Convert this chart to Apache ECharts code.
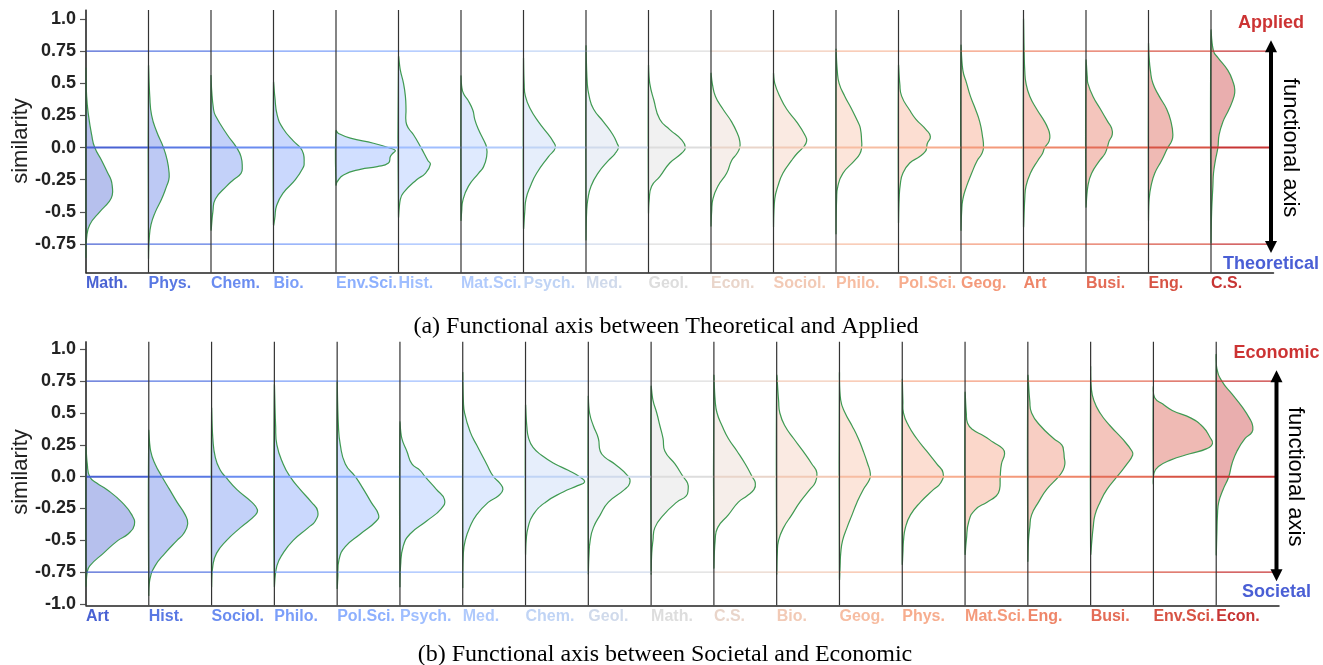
<!DOCTYPE html>
<html>
<head>
<meta charset="utf-8">
<script src="https://cdn.jsdelivr.net/npm/echarts@6.0.0/dist/echarts.min.js"></script>
<style>
html, body { margin: 0; padding: 0; background: #fff; }
#main { width: 1323px; height: 665px; }
</style>
</head>
<body>
<div id="main"></div>
<script>
// categories, left to right
const catsA = ['Math.', 'Phys.', 'Chem.', 'Bio.', 'Env.Sci.', 'Hist.', 'Mat.Sci.', 'Psych.', 'Med.', 'Geol.',
  'Econ.', 'Sociol.', 'Philo.', 'Pol.Sci.', 'Geog.', 'Art', 'Busi.', 'Eng.', 'C.S.']
const catsB = ['Art', 'Hist.', 'Sociol.', 'Philo.', 'Pol.Sci.', 'Psych.', 'Med.', 'Chem.', 'Geol.', 'Math.',
  'C.S.', 'Bio.', 'Geog.', 'Phys.', 'Mat.Sci.', 'Eng.', 'Busi.', 'Env.Sci.', 'Econ.']

// density outlines: [similarity, width], top to bottom
const densA = [
  [[0.6,0],[0.4,0.01],[0.25,0.04],[0.1,0.09],[0,0.14],[-0.1,0.25],[-0.2,0.35],[-0.25,0.4],[-0.3,0.42],[-0.37,0.42],[-0.42,0.37],[-0.5,0.22],[-0.6,0.06],[-0.7,0.01],[-0.84,0]],
  [[0.62,0],[0.4,0.02],[0.25,0.05],[0.125,0.13],[0,0.24],[-0.1,0.3],[-0.2,0.33],[-0.25,0.325],[-0.3,0.29],[-0.4,0.21],[-0.5,0.11],[-0.6,0.04],[-0.72,0.01],[-0.85,0]],
  [[0.55,0],[0.45,0.01],[0.3,0.04],[0.25,0.07],[0.1,0.26],[0,0.41],[-0.07,0.48],[-0.15,0.5],[-0.2,0.48],[-0.25,0.36],[-0.3,0.25],[-0.4,0.07],[-0.5,0.03],[-0.63,0]],
  [[0.5,0],[0.4,0.02],[0.25,0.06],[0.15,0.15],[0.05,0.32],[0,0.43],[-0.05,0.48],[-0.12,0.49],[-0.15,0.48],[-0.25,0.35],[-0.35,0.16],[-0.45,0.05],[-0.55,0.02],[-0.6,0]],
  [[0.13,0],[0.11,0.04],[0.073,0.23],[0.034,0.6],[-0.005,0.87],[-0.023,0.95],[-0.044,0.91],[-0.07,0.87],[-0.12,0.84],[-0.148,0.66],[-0.169,0.39],[-0.213,0.12],[-0.265,0.02],[-0.29,0]],
  [[0.7,0],[0.6,0.03],[0.5,0.08],[0.4,0.11],[0.3,0.12],[0.2,0.12],[0.15,0.16],[0.1,0.24],[0,0.36],[-0.1,0.47],[-0.13,0.51],[-0.2,0.43],[-0.25,0.29],[-0.35,0.08],[-0.4,0.03],[-0.53,0]],
  [[0.55,0],[0.48,0.01],[0.42,0.04],[0.37,0.11],[0.29,0.19],[0.22,0.22],[0.14,0.28],[0.06,0.36],[0,0.41],[-0.07,0.41],[-0.15,0.36],[-0.2,0.28],[-0.3,0.12],[-0.41,0.03],[-0.5,0.01],[-0.56,0]],
  [[0.68,0],[0.5,0.01],[0.4,0.03],[0.3,0.11],[0.2,0.24],[0.1,0.4],[0.05,0.47],[0,0.51],[-0.07,0.4],[-0.2,0.21],[-0.3,0.11],[-0.4,0.04],[-0.5,0.02],[-0.62,0]],
  [[0.77,0],[0.5,0.02],[0.4,0.05],[0.3,0.12],[0.2,0.28],[0.1,0.43],[0.03,0.5],[0,0.52],[-0.05,0.46],[-0.1,0.36],[-0.2,0.19],[-0.3,0.08],[-0.4,0.03],[-0.5,0.01],[-0.7,0]],
  [[0.63,0],[0.5,0.02],[0.37,0.085],[0.22,0.18],[0.14,0.34],[0.06,0.53],[0,0.59],[-0.044,0.53],[-0.12,0.34],[-0.226,0.18],[-0.3,0.05],[-0.41,0.01],[-0.5,0]],
  [[0.57,0],[0.5,0.02],[0.4,0.07],[0.3,0.19],[0.2,0.33],[0.1,0.43],[0.05,0.46],[0,0.46],[-0.05,0.41],[-0.1,0.33],[-0.2,0.25],[-0.3,0.11],[-0.4,0.03],[-0.5,0.01],[-0.6,0]],
  [[0.57,0],[0.5,0.02],[0.4,0.1],[0.3,0.21],[0.2,0.37],[0.1,0.5],[0.05,0.53],[0,0.47],[-0.05,0.37],[-0.1,0.29],[-0.2,0.15],[-0.3,0.07],[-0.4,0.02],[-0.6,0]],
  [[0.75,0],[0.6,0.02],[0.5,0.05],[0.4,0.14],[0.3,0.25],[0.2,0.35],[0.15,0.39],[0.05,0.41],[0,0.41],[-0.05,0.38],[-0.1,0.3],[-0.2,0.11],[-0.3,0.03],[-0.4,0.01],[-0.65,0]],
  [[0.63,0],[0.5,0.02],[0.4,0.05],[0.29,0.18],[0.22,0.28],[0.14,0.44],[0.086,0.51],[0.03,0.46],[0,0.45],[-0.03,0.43],[-0.07,0.34],[-0.12,0.18],[-0.2,0.07],[-0.28,0.03],[-0.4,0.01],[-0.57,0]],
  [[0.78,0],[0.6,0.03],[0.5,0.09],[0.4,0.15],[0.3,0.23],[0.2,0.3],[0.1,0.34],[0,0.36],[-0.05,0.33],[-0.1,0.26],[-0.2,0.17],[-0.3,0.09],[-0.4,0.03],[-0.5,0.01],[-0.63,0]],
  [[0.98,0],[0.75,0.01],[0.6,0.02],[0.5,0.04],[0.4,0.1],[0.3,0.21],[0.2,0.34],[0.15,0.39],[0.1,0.42],[0.05,0.41],[0,0.34],[-0.05,0.3],[-0.1,0.23],[-0.2,0.11],[-0.3,0.04],[-0.4,0.02],[-0.6,0]],
  [[0.67,0],[0.55,0.02],[0.5,0.03],[0.4,0.11],[0.3,0.23],[0.2,0.35],[0.15,0.41],[0.1,0.42],[0.05,0.37],[0,0.34],[-0.05,0.3],[-0.1,0.22],[-0.2,0.09],[-0.3,0.03],[-0.45,0]],
  [[0.8,0],[0.7,0.01],[0.6,0.03],[0.5,0.07],[0.4,0.17],[0.3,0.29],[0.2,0.36],[0.1,0.39],[0.05,0.37],[0,0.31],[-0.1,0.21],[-0.2,0.1],[-0.3,0.04],[-0.4,0.01],[-0.55,0]],
  [[0.9,0],[0.75,0.04],[0.7,0.11],[0.6,0.27],[0.5,0.36],[0.45,0.38],[0.4,0.37],[0.3,0.29],[0.2,0.19],[0.1,0.13],[0,0.11],[-0.1,0.07],[-0.2,0.04],[-0.3,0.03],[-0.5,0.01],[-0.72,0]]
]
const densB = [
  [[0.22,0],[0.1,0.02],[0,0.06],[-0.05,0.17],[-0.1,0.33],[-0.2,0.57],[-0.3,0.73],[-0.38,0.77],[-0.45,0.67],[-0.5,0.51],[-0.6,0.28],[-0.7,0.06],[-0.75,0.02],[-0.85,0]],
  [[0.35,0],[0.2,0.03],[0.1,0.1],[0,0.21],[-0.1,0.33],[-0.2,0.45],[-0.3,0.58],[-0.37,0.62],[-0.45,0.55],[-0.5,0.45],[-0.6,0.26],[-0.7,0.1],[-0.8,0.02],[-0.92,0]],
  [[0.52,0],[0.3,0.02],[0.15,0.06],[0.05,0.14],[0,0.22],[-0.1,0.4],[-0.2,0.64],[-0.26,0.73],[-0.3,0.7],[-0.4,0.46],[-0.5,0.24],[-0.6,0.08],[-0.7,0.02],[-0.85,0]],
  [[0.7,0],[0.4,0.02],[0.25,0.04],[0.1,0.14],[0,0.25],[-0.1,0.41],[-0.2,0.59],[-0.27,0.69],[-0.35,0.65],[-0.4,0.54],[-0.5,0.3],[-0.6,0.14],[-0.7,0.04],[-0.85,0]],
  [[0.72,0],[0.4,0.02],[0.25,0.05],[0.1,0.13],[0,0.29],[-0.1,0.42],[-0.2,0.54],[-0.3,0.66],[-0.35,0.62],[-0.45,0.37],[-0.55,0.13],[-0.65,0.03],[-0.8,0.01],[-0.87,0]],
  [[0.42,0],[0.3,0.03],[0.2,0.11],[0.1,0.19],[0.05,0.32],[0,0.4],[-0.1,0.58],[-0.18,0.71],[-0.25,0.66],[-0.35,0.42],[-0.45,0.16],[-0.55,0.05],[-0.7,0.01],[-0.85,0]],
  [[0.8,0],[0.6,0.01],[0.5,0.03],[0.35,0.12],[0.25,0.22],[0.1,0.38],[0,0.49],[-0.05,0.59],[-0.1,0.64],[-0.15,0.57],[-0.2,0.41],[-0.3,0.22],[-0.4,0.11],[-0.5,0.04],[-0.6,0.01],[-0.85,0]],
  [[0.55,0],[0.4,0.02],[0.3,0.05],[0.23,0.12],[0.17,0.25],[0.1,0.47],[0.05,0.68],[0,0.86],[-0.04,0.94],[-0.07,0.83],[-0.12,0.6],[-0.2,0.32],[-0.3,0.12],[-0.4,0.04],[-0.5,0.01],[-0.6,0]],
  [[0.62,0],[0.5,0.02],[0.4,0.08],[0.3,0.16],[0.2,0.19],[0.15,0.27],[0.1,0.42],[0,0.64],[-0.05,0.66],[-0.1,0.58],[-0.2,0.32],[-0.3,0.19],[-0.4,0.08],[-0.5,0.03],[-0.62,0.01],[-0.75,0]],
  [[0.7,0],[0.6,0.03],[0.5,0.09],[0.4,0.14],[0.3,0.19],[0.2,0.22],[0.1,0.38],[0,0.51],[-0.05,0.58],[-0.1,0.59],[-0.15,0.56],[-0.2,0.41],[-0.3,0.2],[-0.4,0.06],[-0.5,0.03],[-0.6,0.01],[-0.75,0]],
  [[0.78,0],[0.6,0.02],[0.5,0.05],[0.4,0.13],[0.3,0.23],[0.2,0.37],[0.1,0.5],[0,0.61],[-0.05,0.66],[-0.1,0.64],[-0.15,0.53],[-0.2,0.39],[-0.3,0.23],[-0.4,0.06],[-0.5,0.02],[-0.7,0]],
  [[0.78,0],[0.6,0.03],[0.5,0.05],[0.4,0.13],[0.3,0.27],[0.2,0.42],[0.1,0.56],[0.03,0.64],[-0.05,0.61],[-0.1,0.53],[-0.2,0.37],[-0.3,0.24],[-0.4,0.11],[-0.5,0.03],[-0.6,0.01],[-0.75,0]],
  [[0.8,0],[0.6,0.02],[0.5,0.09],[0.4,0.2],[0.3,0.3],[0.2,0.38],[0.1,0.45],[0.03,0.49],[-0.02,0.48],[-0.1,0.38],[-0.2,0.28],[-0.3,0.2],[-0.4,0.12],[-0.5,0.05],[-0.6,0.02],[-0.7,0.01],[-0.8,0]],
  [[0.75,0],[0.6,0.01],[0.5,0.02],[0.4,0.1],[0.3,0.23],[0.2,0.39],[0.1,0.55],[0.03,0.65],[-0.05,0.61],[-0.1,0.5],[-0.2,0.29],[-0.3,0.13],[-0.4,0.05],[-0.5,0.02],[-0.6,0.01],[-0.68,0]],
  [[0.65,0],[0.5,0.02],[0.42,0.04],[0.37,0.12],[0.32,0.3],[0.27,0.45],[0.22,0.6],[0.18,0.63],[0.1,0.58],[0,0.56],[-0.1,0.55],[-0.15,0.5],[-0.2,0.35],[-0.26,0.16],[-0.35,0.06],[-0.5,0.02],[-0.6,0]],
  [[0.78,0],[0.6,0.03],[0.5,0.06],[0.4,0.2],[0.3,0.41],[0.25,0.54],[0.2,0.57],[0.15,0.58],[0.1,0.59],[0.05,0.56],[0,0.49],[-0.1,0.3],[-0.2,0.17],[-0.3,0.06],[-0.4,0.03],[-0.5,0.01],[-0.65,0]],
  [[0.85,0],[0.7,0.01],[0.6,0.05],[0.5,0.15],[0.4,0.31],[0.3,0.5],[0.2,0.66],[0.17,0.67],[0.1,0.58],[0,0.42],[-0.1,0.26],[-0.2,0.15],[-0.3,0.07],[-0.4,0.04],[-0.5,0.02],[-0.6,0]],
  [[0.7,0],[0.62,0.02],[0.57,0.15],[0.52,0.3],[0.46,0.6],[0.39,0.79],[0.31,0.9],[0.26,0.94],[0.22,0.85],[0.18,0.58],[0.13,0.27],[0.08,0.08],[0.03,0.01],[-0.05,0]],
  [[0.95,0],[0.85,0.01],[0.75,0.09],[0.65,0.25],[0.55,0.41],[0.45,0.54],[0.4,0.58],[0.35,0.57],[0.3,0.46],[0.2,0.33],[0.1,0.25],[0,0.2],[-0.1,0.11],[-0.2,0.04],[-0.3,0.02],[-0.45,0.01],[-0.6,0]]
]

const yTicksA = [-0.75, -0.5, -0.25, 0, 0.25, 0.5, 0.75, 1]
const yTicksB = [-1, -0.75, -0.5, -0.25, 0, 0.25, 0.5, 0.75, 1]
const refLines = [0.75, 0, -0.75]
const polesA = ['Applied', 'Theoretical']
const polesB = ['Economic', 'Societal']
const captionA = '(a) Functional axis between Theoretical and Applied'
const captionB = '(b) Functional axis between Societal and Economic'

// coolwarm, sampled by position
const palette = ['#4962d3', '#5978e3', '#6a8cf0', '#7b9ef9', '#8db0fe', '#9fbeff', '#b0cafc', '#c0d4f5', '#d0daeb', '#dddddd',
  '#e9d5ca', '#f2cab6', '#f7bda2', '#f7ad8e', '#f49a7b', '#ee8568', '#e46d57', '#d75344', '#c73534']

const SANS = '"Liberation Sans", Arial, sans-serif'
const SERIF = '"Liberation Serif", "Times New Roman", serif'
const arrowX = 18.96

const chart = echarts.init(document.getElementById('main'))

function tickFmt(v) {
  if (v === 0) return '0.0'
  if (Math.abs(v) === 1) return v.toFixed(1)
  return String(v)
}

const rich = {}
palette.forEach((c, i) => {
  rich['c' + i] = { color: c, fontWeight: 'bold', fontSize: 16, fontFamily: SANS }
})

function makeX(gi, cats) {
  return {
    type: 'value', gridIndex: gi, min: 0, max: 19, interval: 1,
    axisLine: { onZero: false, lineStyle: { color: '#222', width: 1.5 } },
    axisTick: { show: false },
    splitLine: { show: false },
    axisLabel: {
      align: 'left', margin: 3,
      formatter: (v) => (v < cats.length ? '{c' + v + '|' + cats[v] + '}' : ''),
      rich: rich
    }
  }
}

function makeY(gi, min, max, ticks) {
  return {
    type: 'value', gridIndex: gi, min: min, max: max,
    axisLine: { show: true, onZero: false, lineStyle: { color: '#555', width: 1.5 } },
    axisTick: { show: true, length: 6, lineStyle: { color: '#555', width: 1.2 }, customValues: ticks },
    splitLine: { show: false },
    axisLabel: {
      customValues: ticks, formatter: tickFmt, margin: 10,
      color: '#222', fontSize: 18, fontWeight: 'bold', fontFamily: SANS
    }
  }
}

function violinSeries(gi, dens) {
  return {
    type: 'custom', xAxisIndex: gi, yAxisIndex: gi, z: 2,
    data: dens.map((d, i) => [i]),
    renderItem: function (params, api) {
      const i = api.value(0)
      const pts = dens[i].map((p) => api.coord([i + p[1], p[0]]))
      return {
        type: 'polygon',
        shape: { points: pts, smooth: 0.5 },
        style: { fill: echarts.color.modifyAlpha(palette[i], 0.4), stroke: '#3f9a52', lineWidth: 1.2 }
      }
    }
  }
}

function refSeries(gi, n) {
  return {
    type: 'custom', xAxisIndex: gi, yAxisIndex: gi, z: 3,
    data: palette.slice(0, n).map((c, i) => [i]),
    renderItem: function (params, api) {
      const i = api.value(0)
      const x1 = Math.min(i + 1, arrowX)
      return {
        type: 'group',
        children: refLines.map((y) => {
          const a = api.coord([i, y])
          const b = api.coord([x1, y])
          return {
            type: 'line',
            shape: { x1: a[0], y1: a[1], x2: b[0], y2: b[1] },
            style: { stroke: palette[i], lineWidth: y === 0 ? 2 : 1.2 }
          }
        })
      }
    }
  }
}

function vlineSeries(gi, n) {
  return {
    type: 'custom', xAxisIndex: gi, yAxisIndex: gi, z: 4,
    data: palette.slice(0, n).map((c, i) => [i]),
    renderItem: function (params, api) {
      const i = api.value(0)
      const cs = params.coordSys
      const x = api.coord([i, 0])[0]
      return {
        type: 'line',
        shape: { x1: x, y1: cs.y, x2: x, y2: cs.y + cs.height },
        style: { stroke: '#333', lineWidth: 1.2 }
      }
    }
  }
}

function decorSeries(gi, poles) {
  return {
    type: 'custom', xAxisIndex: gi, yAxisIndex: gi, z: 5,
    data: [[arrowX]],
    renderItem: function (params, api) {
      const top = api.coord([arrowX, refLines[0]])
      const mid = api.coord([arrowX, refLines[1]])
      const bot = api.coord([arrowX, refLines[2]])
      const x = top[0]
      const t = top[1] - 11
      const b = bot[1] + 9
      return {
        type: 'group',
        children: [
          { type: 'line', shape: { x1: x, y1: t + 8, x2: x, y2: b - 8 }, style: { stroke: '#000', lineWidth: 4 } },
          { type: 'polygon', shape: { points: [[x, t], [x - 6, t + 12], [x + 6, t + 12]] }, style: { fill: '#000' } },
          { type: 'polygon', shape: { points: [[x, b], [x - 6, b - 12], [x + 6, b - 12]] }, style: { fill: '#000' } },
          { type: 'text', x: x, y: top[1] - 28, style: { text: poles[0], fill: '#cc3333', font: 'bold 18px ' + SANS, align: 'center', verticalAlign: 'middle' } },
          { type: 'text', x: x, y: bot[1] + 20, style: { text: poles[1], fill: '#4a5fd5', font: 'bold 18px ' + SANS, align: 'center', verticalAlign: 'middle' } },
          { type: 'text', x: x + 19, y: mid[1], rotation: -Math.PI / 2, style: { text: 'functional axis', fill: '#000', font: '22px ' + SANS, align: 'center', verticalAlign: 'middle' } }
        ]
      }
    }
  }
}

const option = {
  animation: false,
  backgroundColor: '#fff',
  grid: [
    { left: 86, top: 10, width: 1187.5, height: 262.7 },
    { left: 86, top: 341.7, width: 1193, height: 263.6 }
  ],
  xAxis: [makeX(0, catsA), makeX(1, catsB)],
  yAxis: [makeY(0, -0.973, 1.07, yTicksA), makeY(1, -1.01, 1.06, yTicksB)],
  graphic: [
    { type: 'text', x: 21, y: 141, rotation: Math.PI / 2, style: { text: 'similarity', fill: '#222', font: '22px ' + SANS, align: 'center', verticalAlign: 'middle' } },
    { type: 'text', x: 21, y: 472, rotation: Math.PI / 2, style: { text: 'similarity', fill: '#222', font: '22px ' + SANS, align: 'center', verticalAlign: 'middle' } },
    { type: 'text', x: 666, y: 327, style: { text: captionA, fill: '#000', font: '24px ' + SERIF, align: 'center', verticalAlign: 'middle' } },
    { type: 'text', x: 665, y: 655, style: { text: captionB, fill: '#000', font: '24px ' + SERIF, align: 'center', verticalAlign: 'middle' } }
  ],
  series: [
    violinSeries(0, densA), refSeries(0, catsA.length), vlineSeries(0, catsA.length), decorSeries(0, polesA),
    violinSeries(1, densB), refSeries(1, catsB.length), vlineSeries(1, catsB.length), decorSeries(1, polesB)
  ]
}

chart.setOption(option)
</script>
</body>
</html>
